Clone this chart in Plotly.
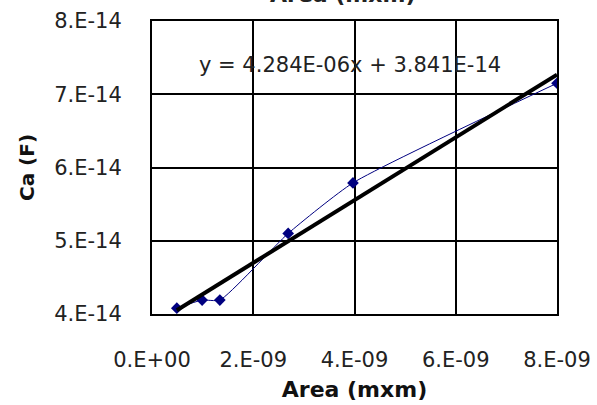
import plotly.graph_objects as go
import numpy as np

# Data
area = [0.49e-9, 0.99e-9, 1.34e-9, 2.69e-9, 3.97e-9, 8.0e-9]
ca = [4.08e-14, 4.19e-14, 4.19e-14, 5.10e-14, 5.79e-14, 7.15e-14]

# Trendline coefficients as displayed
slope = 4.284e-06
intercept = 3.841e-14

x_tickvals = [0, 2e-9, 4e-9, 6e-9, 8e-9]
x_ticktext = ["0.E+00", "2.E-09", "4.E-09", "6.E-09", "8.E-09"]
y_tickvals = [4e-14, 5e-14, 6e-14, 7e-14, 8e-14]
y_ticktext = ["4.E-14", "5.E-14", "6.E-14", "7.E-14", "8.E-14"]

trend_x = [min(area), max(area)]
trend_y = [slope * v + intercept for v in trend_x]

font_main = "DejaVu Sans"

fig = go.Figure()
fig.add_trace(go.Scatter(
    x=area, y=ca, mode="lines+markers",
    line=dict(color="#000080", width=1, shape="spline", smoothing=0.5),
    marker=dict(symbol="diamond", size=9, color="#000080"),
    showlegend=False,
))
fig.add_trace(go.Scatter(
    x=trend_x, y=trend_y, mode="lines",
    line=dict(color="black", width=4),
    showlegend=False,
))

fig.add_annotation(
    x=0.49, y=0.85, xref="paper", yref="paper", yanchor="middle",
    text="y = 4.284E-06x + 3.841E-14", showarrow=False,
    font=dict(family=font_main, size=21, color="#222"),
)
# partially visible title from the chart above (cut by the image edge)
fig.add_annotation(
    x=0.47, y=1.0, xref="paper", yref="paper", yshift=12,
    text="<b>Area (mxm)</b>", showarrow=False, yanchor="bottom",
    font=dict(family=font_main, size=22, color="#222"),
)

fig.update_layout(
    width=597, height=405,
    margin=dict(l=152, r=40, t=21, b=91),
    paper_bgcolor="white", plot_bgcolor="white",
    xaxis=dict(
        range=[0, 8e-9], tickvals=x_tickvals, ticktext=x_ticktext,
        showgrid=True, gridcolor="black", gridwidth=2,
        showline=True, linecolor="black", linewidth=2, mirror=True,
        zeroline=False, automargin=False,
        ticks="outside", ticklen=26, tickcolor="rgba(0,0,0,0)",
        tickfont=dict(family=font_main, size=21, color="#222"),
        title=dict(text="<b>Area (mxm)</b>", standoff=10,
                   font=dict(family=font_main, size=22, color="#111")),
    ),
    yaxis=dict(
        range=[4e-14, 8e-14], tickvals=y_tickvals, ticktext=y_ticktext,
        showgrid=True, gridcolor="black", gridwidth=2,
        showline=True, linecolor="black", linewidth=2, mirror=True,
        zeroline=False, automargin=False,
        ticks="outside", ticklen=24, tickcolor="rgba(0,0,0,0)",
        tickfont=dict(family=font_main, size=21, color="#222"),
        title=dict(text="<b>Ca (F)</b>", standoff=14,
                   font=dict(family=font_main, size=20, color="#111")),
    ),
)

fig.write_html("out.html")
